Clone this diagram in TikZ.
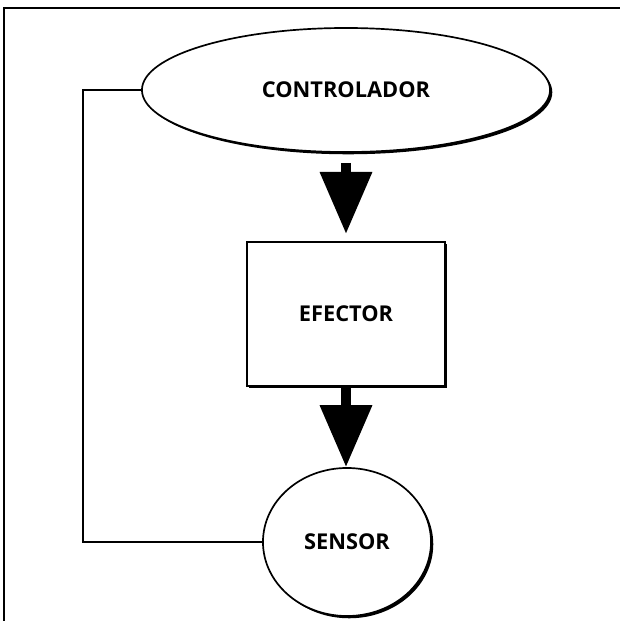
\documentclass[tikz,border=0pt]{standalone}
\usepackage{fontspec}
\setmainfont{Open Sans}
\usetikzlibrary{shapes.geometric,arrows.meta,shadows}
\tikzset{
  blk/.style={draw, line width=1.2pt, fill=white, font=\bfseries\fontsize{15.5}{17}\selectfont,
    drop shadow={fill=black, opacity=1, shadow xshift=1.6pt, shadow yshift=-1.6pt}},
  bigarrow/.style={line width=0.25cm, -{Triangle[length=1.55cm, width=1.25cm]}}
}
\begin{document}
\begin{tikzpicture}[x=0.025cm, y=-0.025cm]
  \useasboundingbox (0,0) rectangle (620,621);
  \draw[line width=1.2pt] (4,621) |- (620,8);

  \node[blk, ellipse, minimum width=10.2cm, minimum height=3.1cm] (ctrl) at (346,90) {CONTROLADOR};
  \node[blk, rectangle, minimum width=4.95cm, minimum height=3.6cm] (efe) at (346,314) {EFECTOR};
  \node[blk, ellipse, minimum width=4.2cm, minimum height=3.7cm] (sen) at (347,542) {SENSOR};
  \coordinate (fb) at (83,0);

  \draw[bigarrow, shorten <=0.25cm, shorten >=0.18cm] (ctrl.south) -- (efe.north);
  \draw[bigarrow] (efe.south) -- (efe.south |- sen.north);
  \draw[line width=1.2pt] (sen.west) -- (sen.west -| fb) |- (ctrl.west);
\end{tikzpicture}
\end{document}
